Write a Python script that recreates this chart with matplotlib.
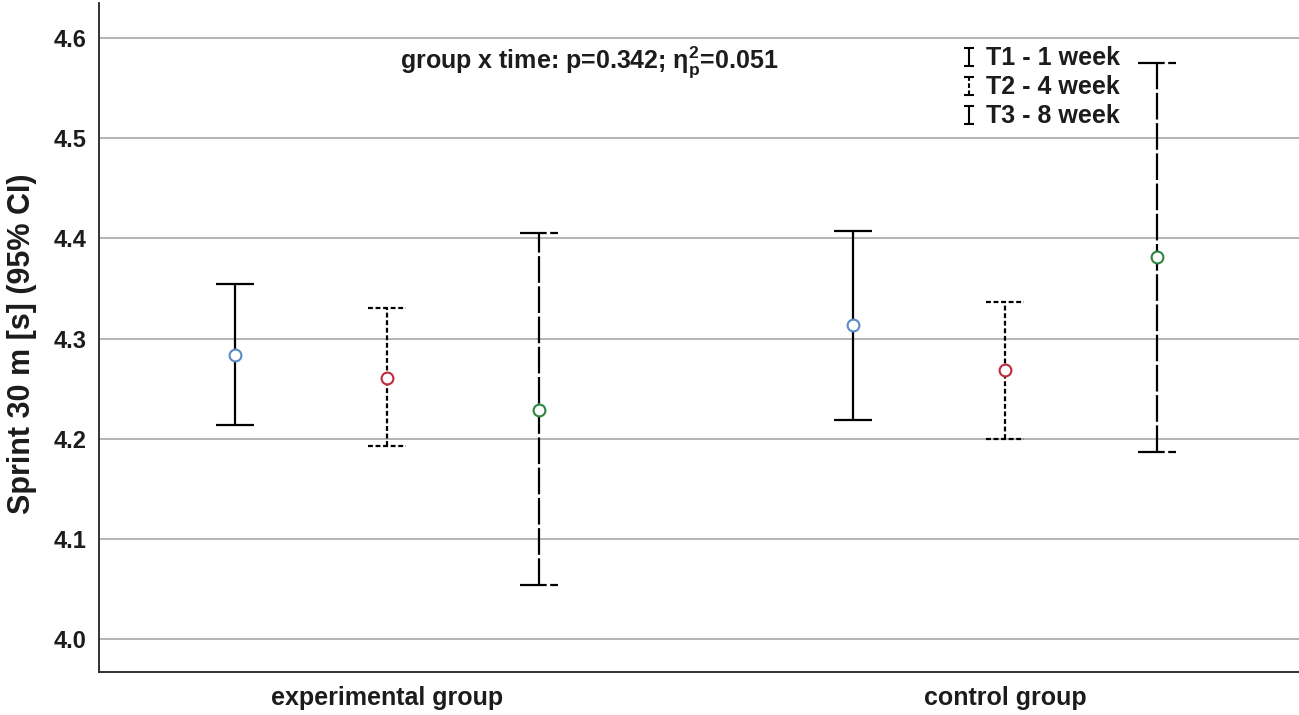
import numpy as np
import matplotlib
matplotlib.use("Agg")
import matplotlib.pyplot as plt
from matplotlib.legend_handler import HandlerErrorbar

# Sprint 30 m means and 95% CI, per time point (experimental, control)
groups = ["experimental group", "control group"]
times = ["T1 - 1 week", "T2 - 4 week", "T3 - 8 week"]

mean_t1 = [4.284, 4.313]
lower_t1 = [4.214, 4.219]
upper_t1 = [4.354, 4.407]

mean_t2 = [4.261, 4.269]
lower_t2 = [4.193, 4.200]
upper_t2 = [4.330, 4.336]

mean_t3 = [4.229, 4.381]
lower_t3 = [4.054, 4.187]
upper_t3 = [4.405, 4.575]

y_ticks = [4.0, 4.1, 4.2, 4.3, 4.4, 4.5, 4.6]

plt.rcParams["font.family"] = ["Liberation Sans", "DejaVu Sans"]
plt.rcParams["font.weight"] = "bold"
plt.rcParams["mathtext.fontset"] = "custom"
plt.rcParams["mathtext.rm"] = "Liberation Sans:bold"
plt.rcParams["mathtext.it"] = "Liberation Sans:bold"
plt.rcParams["mathtext.bf"] = "Liberation Sans:bold"

txt_col = "#1c1c1c"

fig = plt.figure(figsize=(12.99, 7.15), dpi=100)
ax = fig.add_axes([99 / 1299, 43 / 715, 1 - 99 / 1299, 669 / 715])

series = [
    (mean_t1, lower_t1, upper_t1, "-", "#5b8ac6"),
    (mean_t2, lower_t2, upper_t2, (0, (2.2, 1.2)), "#c0283c"),
    (mean_t3, lower_t3, upper_t3, (0, (12, 1.6)), "#2e8540"),
]
offsets = [-0.246, 0.0, 0.246]
cap_half = 0.031
lw = 1.6

x_base = np.arange(len(groups))
handles = []
for (m, lo, hi, ls, col), off in zip(series, offsets):
    m = np.array(m)
    lo = np.array(lo)
    hi = np.array(hi)
    x = x_base + off
    eb = ax.errorbar(x, m, yerr=[m - lo, hi - m], fmt="none", ecolor="black",
                     elinewidth=lw, capsize=0, zorder=3)
    eb.lines[2][0].set_linestyle(ls)
    ax.hlines(lo, x - cap_half, x + cap_half, colors="black", linewidth=lw,
              linestyles=[ls], zorder=3)
    ax.hlines(hi, x - cap_half, x + cap_half, colors="black", linewidth=lw,
              linestyles=[ls], zorder=3)
    ax.plot(x, m, "o", markersize=8.5, markerfacecolor="white",
            markeredgecolor=col, markeredgewidth=1.5, linestyle="none", zorder=4)
    # dummy for the legend glyph
    h = ax.errorbar([np.nan], [np.nan], yerr=[np.nan], fmt="none", ecolor="black",
                    elinewidth=1.5, capsize=3.5, capthick=1.5)
    h.lines[2][0].set_linestyle(ls)
    handles.append(h)

ax.set_xlim(-0.466, 1.476)
ax.set_ylim(3.967, 4.635)
ax.set_yticks(y_ticks)
ax.set_yticklabels([f"{v:.1f}" for v in y_ticks], fontsize=17, fontweight="bold")
ax.set_xticks(x_base)
ax.set_xticklabels(groups, fontsize=18, fontweight="bold")
ax.tick_params(axis="both", length=0, colors=txt_col)
ax.tick_params(axis="y", pad=9)
ax.tick_params(axis="x", pad=10)

ax.grid(axis="y", color="#a8a8a8", linewidth=1.2)
ax.set_axisbelow(True)
for side in ["top", "right"]:
    ax.spines[side].set_visible(False)
for side in ["left", "bottom"]:
    ax.spines[side].set_color("#222222")
    ax.spines[side].set_linewidth(1.3)

ax.set_ylabel("Sprint 30 m [s] (95% CI)", fontsize=22, fontweight="bold",
              color=txt_col)
ax.yaxis.set_label_coords(-0.0517, 0.49)

ax.text(0.328, 4.576, r"group x time: p=0.342; η$_{\mathrm{p}}^{\mathrm{2}}$=0.051",
        ha="center", va="center", fontsize=18, fontweight="bold", color=txt_col)

leg = ax.legend(handles, times, loc="upper left", bbox_to_anchor=(0.72, 0.935),
                frameon=False, fontsize=18, handlelength=0.5, handletextpad=0.4,
                labelspacing=0.2, borderpad=0, borderaxespad=0,
                handler_map={type(handles[0]): HandlerErrorbar(yerr_size=0.36)})
for t in leg.get_texts():
    t.set_fontweight("bold")
    t.set_color(txt_col)

fig.savefig("out.png", dpi=100)
